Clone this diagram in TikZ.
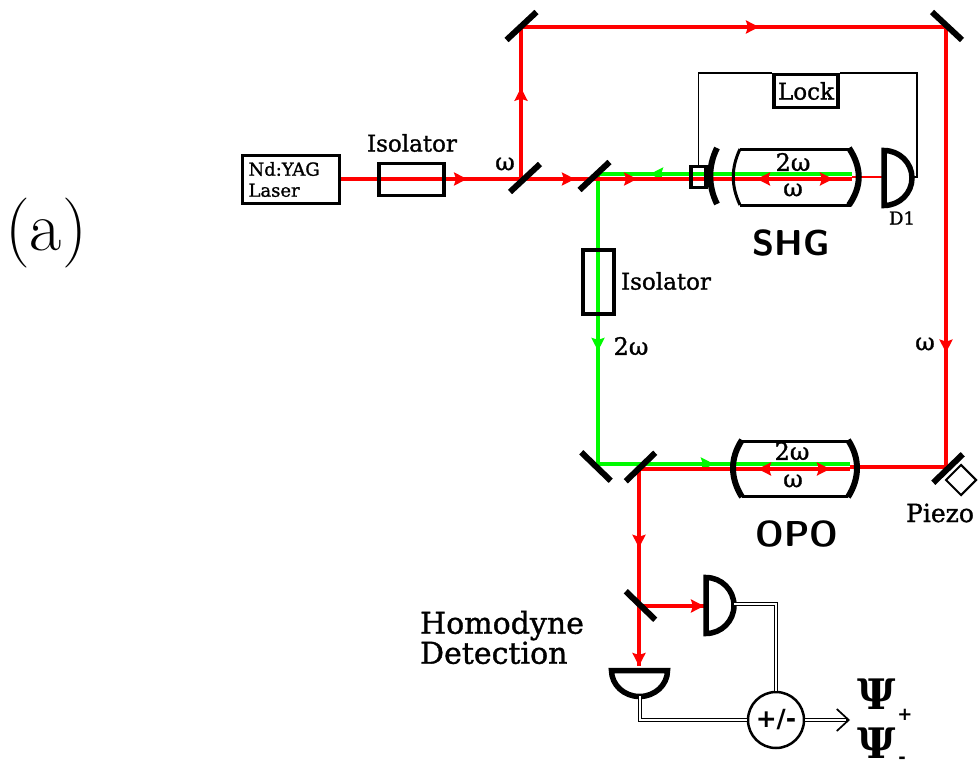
\documentclass[tikz,border=0pt]{standalone}
\usepackage{fontspec}
\usepackage{tikz}
\usetikzlibrary{positioning, arrows.meta, backgrounds, decorations.markings, shapes.geometric}
\newfontfamily\labelfont[FakeBold=1.2]{DejaVu Serif}
\newfontfamily\plainfont{DejaVu Serif}
\newfontfamily\headfont{DejaVu Sans}
\newcommand{\lbl}[1]{\fontsize{#1}{#1}\selectfont}
\definecolor{beamred}{RGB}{255,0,0}
\definecolor{beamgreen}{RGB}{0,250,0}

\begin{document}
\begin{tikzpicture}[
  x=1pt, y=-1pt,
  inner sep=0pt,
  txt/.style={font=\labelfont\lbl{23}, align=left},
  omg/.style={font=\labelfont\lbl{24}},
  sml/.style={font=\labelfont\lbl{18}, align=left},
  big/.style={font=\sffamily\bfseries\lbl{36}},
  box/.style={draw, line width=3.5pt},
  mirror/.style={fill=black, minimum width=41pt, minimum height=6pt},
  wire/.style={line width=1.7pt},
  cable/.style={double, double distance=2pt, line width=1.2pt},
  det/.style={line width=5.5pt},
  cavline/.style={line width=3pt},
  cavmirror/.style={line width=6pt},
  red beam/.style={beamred, line width=3.8pt},
  green beam/.style={beamgreen, line width=3.8pt},
  tip/.style={postaction={decorate, decoration={markings,
      mark=at position #1 with {\arrow{Stealth[length=13pt, width=13pt, inset=2pt]}}}}},
  pit/.style={postaction={decorate, decoration={markings,
      mark=at position #1 with {\arrowreversed{Stealth[length=13pt, width=13pt, inset=2pt]}}}}}
]
\useasboundingbox (0,0) rectangle (980,768);

\node[font=\lbl{70}] (panel) at (46,233) {(a)};

% source and first isolator
\node[box, minimum width=97pt, minimum height=48pt, sml, text width=85pt] (laser) at (291,179.5) {Nd:YAG\\[3pt]Laser};
\node[box, minimum width=65pt, minimum height=32pt] (isoa) at (411.5,179.5) {};
\node[txt] (isoatxt) at (412,143) {Isolator};
\node[omg] (wa) at (505,164) {ω};

% mirrors
\node[mirror, rotate=43] (topl) at (521.5,26) {};
\node[mirror, rotate=-43] (topr) at (947,26) {};
\node[mirror, rotate=43] (bsa) at (525,178) {};
\node[mirror, rotate=43] (bsb) at (594.5,176) {};
\node[mirror, rotate=-44] (turn) at (596,466.5) {};
\node[mirror, rotate=44] (bsc) at (640.5,467) {};
\node[mirror, rotate=44] (pmir) at (948,468.5) {};
\node[mirror, rotate=-44] (bsd) at (640.5,605.5) {};
\node[diamond, draw, line width=2pt, minimum width=31pt, minimum height=31pt] (pzt) at (961,480) {};
\node[txt, font=\labelfont\lbl{25}] (pzttxt) at (940,513) {Piezo};

% second isolator
\node[box, minimum width=31pt, minimum height=64pt] (isob) at (598.5,282) {};
\node[txt] (isobtxt) at (666,281) {Isolator};
\node[omg] (wb) at (631,346) {2ω};
\node[omg] (wc) at (925,344) {ω};

% SHG cavity
\node[box, minimum width=15pt, minimum height=21pt] (pztb) at (698.5,177) {};
\draw[cavline] (740,149) -- (851,149) (740,205) -- (851,205);
\draw[cavline] (740,149) .. controls (731,168) and (731,186) .. (740,205);
\draw[cavmirror] (717,148) .. controls (708,166) and (708,186) .. (717,204);
\draw[cavmirror] (849,148) .. controls (862,168) and (862,186) .. (849,205);
\node[omg] (wd) at (793,162) {2ω};
\node[omg] (we) at (793,190) {ω};
\node[big] (shg) at (791,243) {SHG};

% OPO cavity
\draw[cavline] (742,441) -- (848,441) (742,496) -- (848,496);
\draw[cavmirror] (742,440) .. controls (730,458) and (730,478) .. (742,497);
\draw[cavmirror] (848,440) .. controls (860,458) and (860,478) .. (848,497);
\node[omg] (wf) at (792,451) {2ω};
\node[omg] (wg) at (793,481) {ω};
\node[big] (opo) at (797,534) {OPO};

% lock loop
\node[box, minimum width=64pt, minimum height=33pt, font=\labelfont\lbl{23}] (lock) at (806,91) {Lock};
\draw[det] (884,150.5) arc[start angle=-90, end angle=90, x radius=28, y radius=27.5] -- cycle;
\coordinate (done) at (912,177);
\coordinate (dtwo) at (884,177);
\node[sml] (dtxt) at (902,218) {D1};
\draw[wire] (pztb.north) |- (lock.north west);
\draw[wire] (lock.north east) -| (917,177) -- (done);

% homodyne detectors
\draw[det] (706,577.5) arc[start angle=-90, end angle=90, x radius=28, y radius=28] -- cycle;
\draw[det] (611.5,670.5) arc[start angle=180, end angle=0, x radius=28, y radius=26] -- cycle;
\coordinate (dhom) at (734,604);
\coordinate (dhomb) at (640,696);
\node[font=\labelfont\lbl{30}, align=left] (hom) at (502,637.5) {Homodyne\\Detection};
\node[draw, circle, line width=2.5pt, minimum size=56pt, fill=white, font=\headfont\bfseries\lbl{25}] (sum) at (776,720) {+/-};
\draw[cable] (dhom) -| (sum.north);
\draw[cable] (dhomb) |- (sum.west);
\coordinate (outa) at (850,720);
\draw[wire, -{Straight Barb[length=12pt, width=22pt]}] (sum.east) -- (outa);
\draw[cable] (sum.east) -- (846,720);
\node[font=\plainfont\bfseries\lbl{42}] (psia) at (877,694) {Ψ};
\node[font=\plainfont\bfseries\lbl{42}] (psib) at (877,743) {Ψ};
\node[font=\headfont\bfseries\lbl{18}] (plus) at (905,715) {+};
\node[font=\headfont\bfseries\lbl{18}] (minus) at (902,760) {-};

% beams
\coordinate (ja) at (521,179);
\coordinate (jb) at (598,179);
\coordinate (jc) at (521,27);
\coordinate (jd) at (946,27);
\coordinate (je) at (946,467);
\coordinate (jf) at (639,469);
\coordinate (jg) at (639,606);
\coordinate (shgend) at (852,179);
\coordinate (opoend) at (850,469);
\coordinate (opoout) at (850,467);
\begin{scope}[on background layer]
\draw[green beam, tip=0.795] (852,174) -- (598,174);
\draw[green beam, tip=0.61] (598,174) -- (598,464);
\draw[green beam, tip=0.46] (598,464) -- (850,464);
\draw[red beam, tip=0.70] (laser.east |- ja) -- (ja);
\draw[red beam, tip=0.60] (ja) -- (jc);
\draw[red beam, tip=0.56] (jc) -- (jd);
\draw[red beam, tip=0.74] (jd) -- (je);
\draw[red beam, tip=0.70] (ja) -- (jb);
\draw[red beam, tip=0.154, pit=0.626, tip=0.925] (jb) -- (shgend);
\draw[beamred, line width=2pt] (852,177) -- (dtwo);
\draw[red beam] (opoout) -- (je);
\draw[red beam, pit=0.564, tip=0.905] (jf) -- (opoend);
\draw[red beam, tip=0.40, tip=1] (jf) -- (639,666);
\draw[red beam, tip=1] (jg) -- (704,606);
\end{scope}
\end{tikzpicture}
\end{document}
